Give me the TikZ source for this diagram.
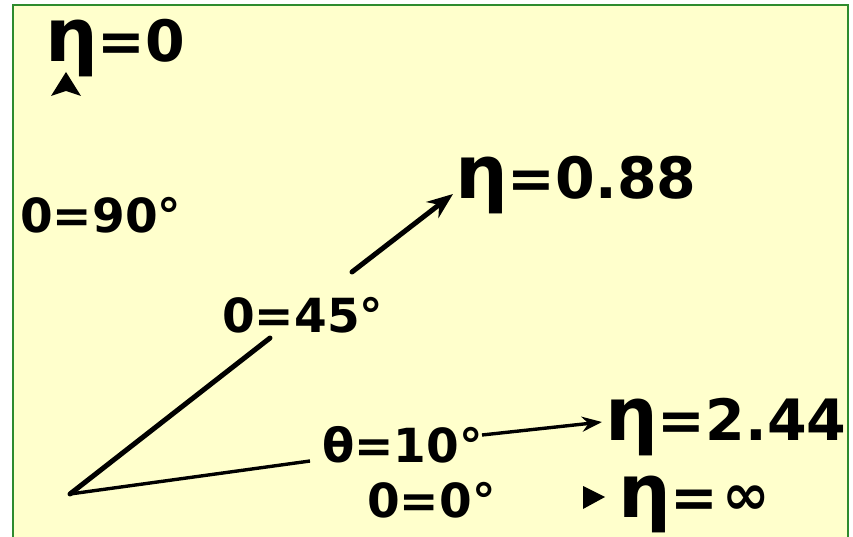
\documentclass[tikz,border=0pt]{standalone}
\usepackage{fontspec}
\setmainfont{DejaVu Sans}
\usetikzlibrary{arrows.meta}
\definecolor{bg}{HTML}{FFFFCC}
\definecolor{frame}{HTML}{2E8B2E}
\newcommand\bigeta{\scalebox{1.3}{η}}
\begin{document}
\begin{tikzpicture}[x=1pt,y=-1pt,
  big/.style={font=\fontsize{57}{60}\selectfont\bfseries, inner sep=0pt, anchor=base west},
  small/.style={font=\fontsize{47}{50}\selectfont\bfseries, inner sep=0pt, anchor=base west},
  thick line/.style={line width=5pt, line cap=round},
  thin line/.style={line width=3.4pt},
  bigtip/.style={-{Stealth[length=26pt,width=20pt]}},
  smalltip/.style={-{Stealth[length=20pt,width=15pt]}}]
\useasboundingbox (0,0) rectangle (853,537);
\fill[white] (0,0) rectangle (853,537);
\fill[bg] (13,5) rectangle (848,537);
\draw[frame, line width=2pt] (13,537) -- (13,5) -- (848,5) -- (848,537);

\node[big] (e0) at (45,62) {\bigeta=0};
\node[small] (l90) at (20,233) {0=90°};
\node[small] (l45) at (222,332) {0=45°};
\node[big] (e088) at (455,199) {\bigeta=0.88};
\node[small] (l10) at (322,462) {θ=10°};
\node[small] (l0) at (367,517) {0=0°};
\node[big] (e244) at (605,440) {\bigeta=2.44};
\node[big] (einf) at (618,517) {\bigeta=\hspace{4pt}\raisebox{3pt}{∞}};

\coordinate (O) at (70,494);
\coordinate (g45a) at (270,338);
\coordinate (g45b) at (352,272);
\coordinate (t45) at (453,194);
\coordinate (g10a) at (310,461);
\coordinate (g10b) at (482,435);
\coordinate (t10) at (602,422);

\draw[thick line] (O) -- (g45a);
\draw[thick line, bigtip] (g45b) -- (t45);
\draw[thin line] (O) -- (g10a);
\draw[thin line, smalltip] (g10b) -- (t10);

\fill (605,497) -- (583,486) -- (583,509) -- cycle;
\fill (66,72) -- (81,96) -- (66,91) -- (51,96) -- cycle;
\end{tikzpicture}
\end{document}
